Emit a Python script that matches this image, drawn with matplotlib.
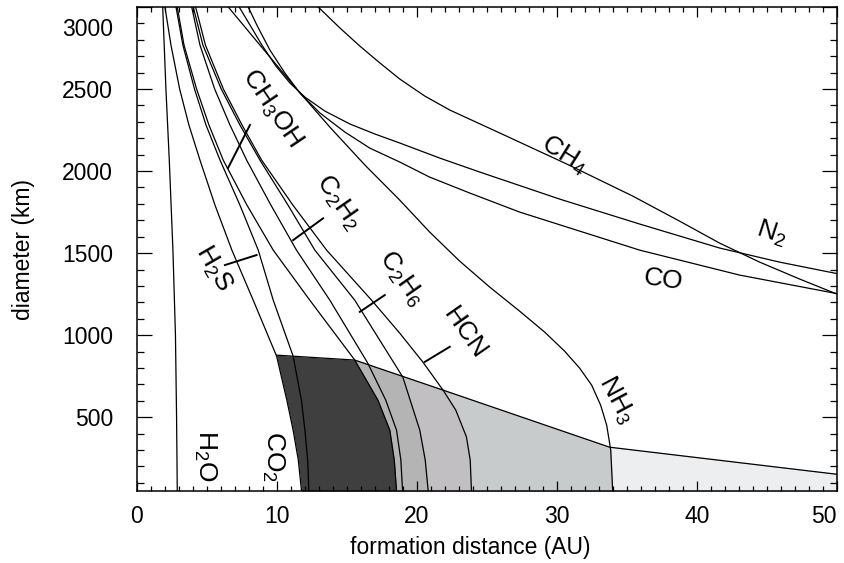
import numpy as np
import matplotlib
matplotlib.use("Agg")
import matplotlib.pyplot as plt
from matplotlib.ticker import MultipleLocator
from matplotlib.transforms import ScaledTranslation

plt.rcParams['font.family'] = ['Liberation Sans', 'DejaVu Sans']
plt.rcParams['mathtext.fontset'] = 'custom'
plt.rcParams['mathtext.rm'] = 'Liberation Sans'
plt.rcParams['mathtext.it'] = 'Liberation Sans:italic'
plt.rcParams['mathtext.bf'] = 'Liberation Sans:bold'

# Retention curves: formation distance (AU) vs diameter (km)
h2o_au = [1.87, 2.10, 2.34, 2.60, 2.78, 2.86, 2.91]
h2o_km = [3000, 2500, 2067, 1518, 1000, 500, 50]

co2_au = [2.03, 2.46, 3.08, 3.74, 4.53, 5.60, 6.81, 8.33, 10.00, 10.73, 11.18, 11.55, 11.78]
co2_km = [3000, 2768, 2500, 2281, 2067, 1793, 1518, 1213, 872, 604, 421, 238, 50]

h2s_au = [2.82, 3.31, 4.14, 4.96, 5.96, 7.38, 8.69, 9.76, 11.18, 11.77, 12.02, 12.22, 12.30]
h2s_km = [3000, 2768, 2500, 2281, 2067, 1793, 1518, 1213, 872, 604, 421, 238, 50]

ch3oh_au = [2.91, 3.39, 4.29, 5.17, 6.19, 7.88, 9.76, 12.37, 15.58, 17.23, 18.08, 18.40, 18.56]
ch3oh_km = [3000, 2768, 2500, 2281, 2067, 1793, 1518, 1213, 848, 604, 421, 238, 50]

c2h2_au = [3.94, 4.53, 5.58, 6.67, 7.86, 9.59, 11.42, 13.80, 16.51, 17.79, 18.56, 18.87, 18.99]
c2h2_km = [3000, 2768, 2500, 2281, 2067, 1793, 1518, 1213, 829, 604, 421, 238, 50]

c2h6_au = [4.05, 4.74, 6.05, 7.38, 8.81, 10.81, 12.73, 15.58, 19.01, 20.22, 20.61, 20.82]
c2h6_km = [3000, 2768, 2500, 2281, 2067, 1793, 1518, 1213, 744, 421, 238, 50]

hcn_au = [4.22, 4.92, 6.20, 7.53, 8.93, 11.16, 13.57, 16.78, 18.79, 20.43, 21.88, 22.79, 23.55, 23.82, 23.91]
hcn_km = [3000, 2768, 2500, 2281, 2067, 1793, 1518, 1213, 1012, 837, 665, 543, 380, 238, 50]

nh3_au = [6.55, 8.81, 11.31, 13.80, 16.30, 18.79, 20.93, 23.07, 25.21, 27.35, 29.14,
          30.56, 31.63, 32.49, 33.13, 33.56, 33.85, 33.99]
nh3_km = [3000, 2768, 2512, 2268, 2037, 1823, 1628, 1451, 1293, 1146, 1018,
          902, 799, 695, 573, 451, 299, 50]

n2_au = [7.33, 8.10, 8.95, 9.95, 10.95, 12.02, 13.44, 15.23, 17.01, 18.79, 21.65, 24.50,
         30.21, 35.92, 41.62, 45.90, 50.0]
n2_km = [3000, 2890, 2768, 2640, 2537, 2451, 2366, 2287, 2226, 2171, 2079, 1994,
         1829, 1677, 1531, 1445, 1375]

co_au = [7.97, 8.66, 9.52, 10.59, 11.66, 13.09, 14.87, 16.65, 18.79, 20.93, 23.79, 27.35,
         35.92, 43.05, 50.0]
co_km = [3000, 2878, 2738, 2598, 2476, 2354, 2238, 2140, 2055, 1963, 1866, 1750,
         1518, 1366, 1253]

ch4_au = [12.97, 14.52, 15.94, 17.37, 18.79, 20.58, 22.36, 25.93, 30.71, 35.41, 38.76,
          41.62, 44.48, 47.33, 50.0]
ch4_km = [3000, 2872, 2762, 2659, 2561, 2457, 2372, 2232, 2043, 1848, 1695,
          1561, 1445, 1342, 1250]

# upper edge of the shaded zones
edge_au = [10.0, 15.58, 21.88, 33.77, 50.0]
edge_km = [878, 848, 665, 317, 152]

# shaded zones: left bounding curve and grey level
zones = [
    (co2_au, co2_km, '#3f3f3f'),
    (ch3oh_au, ch3oh_km, '#b4b4b4'),
    (c2h6_au, c2h6_km, '#c1bfc2'),
    (hcn_au, hcn_km, '#c8cbcc'),
    (nh3_au, nh3_km, '#edeef0'),
]

curves = [
    (h2o_au, h2o_km), (co2_au, co2_km), (h2s_au, h2s_km), (ch3oh_au, ch3oh_km),
    (c2h2_au, c2h2_km), (c2h6_au, c2h6_km), (hcn_au, hcn_km), (nh3_au, nh3_km),
    (n2_au, n2_km), (co_au, co_km), (ch4_au, ch4_km),
]

# species labels: text, x, y, rotation
labels = [
    (r'$\mathregular{H_2O}$', 4.89, 262, -90),
    (r'$\mathregular{CO_2}$', 9.74, 262, -90),
    (r'$\mathregular{H_2S}$', 5.46, 1409, -60),
    (r'$\mathregular{CH_3OH}$', 9.67, 2384, -56),
    (r'$\mathregular{C_2H_2}$', 14.37, 1811, -55),
    (r'$\mathregular{C_2H_6}$', 18.93, 1348, -55),
    ('HCN', 23.43, 1012, -55),
    (r'$\mathregular{NH_3}$', 34.28, 604, -62),
    (r'$\mathregular{CH_4}$', 30.56, 2098, -32),
    (r'$\mathregular{N_2}$', 45.35, 1622, -18),
    ('CO', 37.56, 1335, -8),
]

# short pointer marks next to some labels: (x0, y0, x1, y1)
pointers = [
    (6.53, 2018, 8.10, 2281),
    (6.31, 1427, 8.57, 1488),
    (11.18, 1579, 13.32, 1712),
    (15.94, 1142, 17.72, 1244),
    (20.58, 837, 22.36, 929),
]

fig = plt.figure(figsize=(8.45, 5.63), dpi=100)
ax = fig.add_axes([136.5 / 845, 1 - 491 / 563, 700.5 / 845, 484 / 563])

# shaded zones, darkest first, lighter ones laid on top
yy = np.linspace(50, max(edge_km), 600)
x_edge = np.interp(yy, edge_km[::-1], edge_au[::-1])
for au, km, col in zones:
    x_left = np.interp(yy, km[::-1], au[::-1])
    ax.fill_betweenx(yy, x_left, x_edge, where=x_edge > x_left, color=col, lw=0, zorder=1)

ax.plot(edge_au, edge_km, color='black', lw=0.9, zorder=3)
for au, km in curves:
    ax.plot(au, km, color='black', lw=0.9, zorder=3, solid_joinstyle='round')

for x0, y0, x1, y1 in pointers:
    ax.plot([x0, x1], [y0, y1], color='black', lw=1.4, zorder=3)

for txt, x, y, rot in labels:
    ax.text(x, y, txt, fontsize=19, rotation=rot, ha='center', va='center',
            rotation_mode='anchor', zorder=4)

ax.set_xlim(0, 50)
ax.set_ylim(50, 3000)
ax.set_xticks([0, 10, 20, 30, 40, 50])
ax.set_yticks([500, 1000, 1500, 2000, 2500, 3000])
ax.xaxis.set_minor_locator(MultipleLocator(1))
ax.yaxis.set_minor_locator(MultipleLocator(100))

ax.tick_params(axis='both', which='both', direction='in', top=True, right=True,
               width=0.9, colors='black', labelsize=16.5)
ax.tick_params(axis='x', which='major', length=7.5, pad=10)
ax.tick_params(axis='x', which='minor', length=3.8)
ax.tick_params(axis='y', which='major', length=10.8, pad=17)
ax.tick_params(axis='y', which='minor', length=5.3)
for sp in ax.spines.values():
    sp.set_linewidth(1.1)

# top label sits a little lower than its tick; last x label kept inside the figure
top_lbl = ax.get_yticklabels()[-1]
top_lbl.set_transform(top_lbl.get_transform() + ScaledTranslation(0, -0.2, fig.dpi_scale_trans))
ax.get_xticklabels()[-1].set_horizontalalignment('right')

ax.set_xlabel('formation distance (AU)', fontsize=16.5)
ax.set_ylabel('diameter (km)', fontsize=16.5)
ax.xaxis.set_label_coords(0.476, -0.092)
ax.yaxis.set_label_coords(-0.145, 0.5)

fig.savefig('out.png', dpi=100)
